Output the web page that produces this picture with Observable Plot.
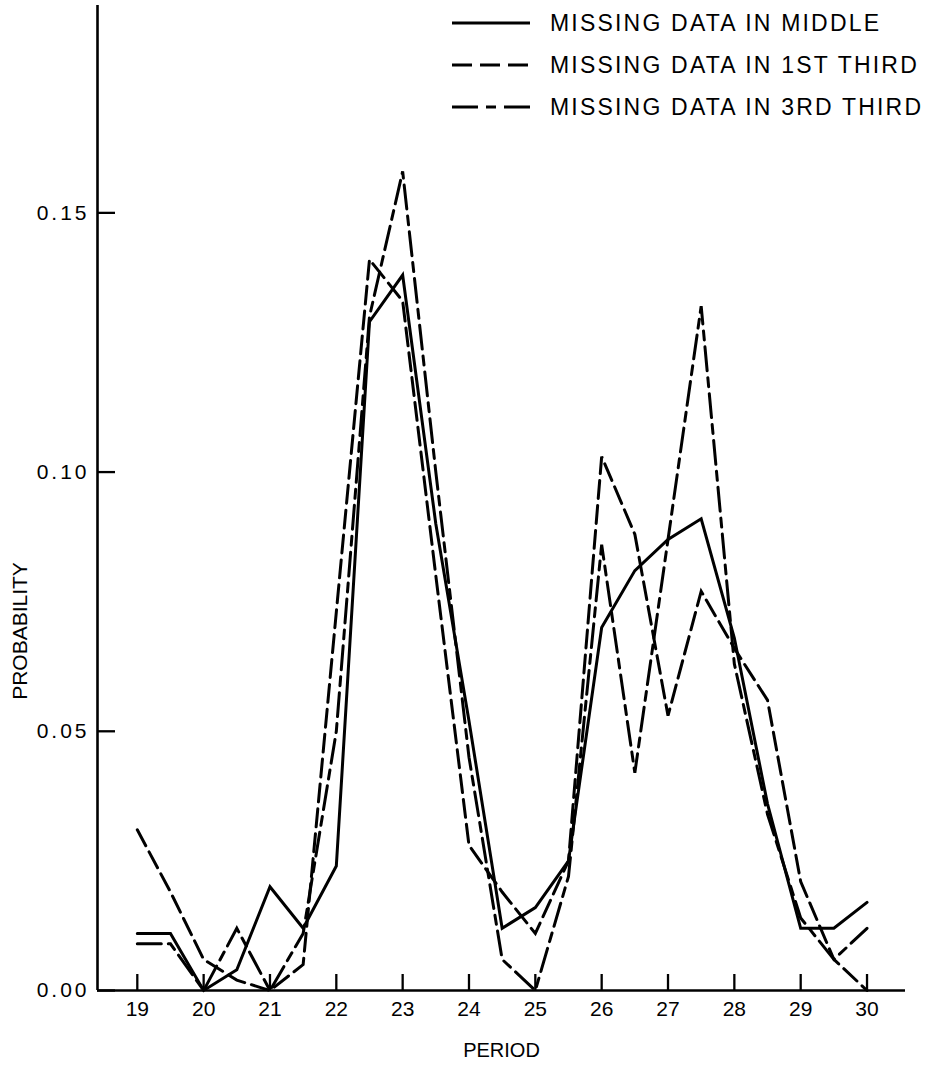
<!DOCTYPE html>
<html><head><meta charset="utf-8">
<script src="https://cdn.jsdelivr.net/npm/d3@7"></script>
<script src="https://cdn.jsdelivr.net/npm/@observablehq/plot@0.6"></script>
<style>
body{margin:0;background:#fff;}
#wrap{position:relative;width:933px;height:1069px;overflow:hidden;}
#legend{position:absolute;left:452px;top:2px;font-family:"Liberation Sans",Arial,sans-serif;font-size:23px;letter-spacing:2.2px;color:#000;}
.row{display:flex;align-items:center;height:42px;white-space:nowrap;}
.row svg{margin-right:20px;flex:none;}
#chart svg g[aria-label="y-axis tick label"] text{letter-spacing:3px;}
</style></head><body>
<div id="wrap"><div id="chart"></div><div id="legend"></div></div>
<script>
const periods = [19, 19.5, 20, 20.5, 21, 21.5, 22, 22.5, 23, 23.5, 24, 24.5, 25, 25.5, 26, 26.5, 27, 27.5, 28, 28.5, 29, 29.5, 30];
const middle     = [0.011, 0.011, 0.000, 0.004, 0.020, 0.012, 0.024, 0.129, 0.138, 0.090, 0.052, 0.012, 0.016, 0.025, 0.070, 0.081, 0.087, 0.091, 0.068, 0.036, 0.012, 0.012, 0.017];
const firstThird = [0.031, 0.019, 0.006, 0.002, 0.000, 0.005, 0.073, 0.141, 0.133, 0.080, 0.028, 0.019, 0.011, 0.025, 0.103, 0.088, 0.053, 0.077, 0.066, 0.056, 0.021, 0.006, 0.000];
const thirdThird = [0.009, 0.009, 0.000, 0.012, 0.000, 0.011, 0.050, 0.130, 0.158, 0.100, 0.045, 0.006, 0.000, 0.022, 0.086, 0.042, 0.087, 0.132, 0.063, 0.034, 0.014, 0.006, 0.012];
const seriesNames = ["MISSING DATA IN MIDDLE", "MISSING DATA IN 1ST THIRD", "MISSING DATA IN 3RD THIRD"];
const seriesDash = [null, "18,7", "24,7,9,7"];
const xTicks = [19, 20, 21, 22, 23, 24, 25, 26, 27, 28, 29, 30];
const yTicks = [0.00, 0.05, 0.10, 0.15];
const xLabel = "PERIOD";
const yLabel = "PROBABILITY";

const seriesValues = [middle, firstThird, thirdThird];
const tables = seriesValues.map((vals, k) => periods.map((p, i) => ({period: p, prob: vals[i], series: seriesNames[k]})));

const font = "Liberation Sans, Arial, sans-serif";
const chart = Plot.plot({
  width: 933, height: 1069,
  marginLeft: 97, marginRight: 28, marginTop: 5, marginBottom: 79,
  style: {fontFamily: font, fontSize: "21px", color: "#000", background: "#fff"},
  x: {domain: [18.4, 30.58]},
  y: {domain: [0, 0.19]},
  marks: [
    Plot.ruleY([0], {stroke: "#000", strokeWidth: 2.6}),
    Plot.ruleX([18.4], {stroke: "#000", strokeWidth: 2.6}),
    Plot.axisX({ticks: xTicks, tickSize: -16, tickPadding: 27, tickFormat: d => String(d), label: null, strokeWidth: 2.3, fontSize: 21}),
    Plot.axisY({ticks: yTicks, tickSize: -18, tickPadding: 26, tickFormat: d => d.toFixed(2), label: null, strokeWidth: 2.3, fontSize: 21}),
    ...tables.map((t, k) => Plot.line(t, {x: "period", y: "prob", stroke: "#000", strokeWidth: 3, strokeDasharray: seriesDash[k], strokeLinejoin: "miter", strokeMiterlimit: 3})),
    Plot.text([xLabel], {frameAnchor: "bottom", dy: 60, fontSize: 20, lineAnchor: "middle", textAnchor: "middle"}),
    Plot.text([yLabel], {frameAnchor: "left", dx: -77, dy: 133, rotate: -90, fontSize: 21, lineAnchor: "middle", textAnchor: "middle"})
  ]
});
document.getElementById("chart").appendChild(chart);

const legend = document.getElementById("legend");
seriesNames.forEach((name, k) => {
  const row = document.createElement("div");
  row.className = "row";
  const dash = seriesDash[k] ? `stroke-dasharray="${k === 1 ? "20,8" : "26,8,10,8"}"` : "";
  row.innerHTML = `<svg width="78" height="10"><line x1="0" y1="5" x2="78" y2="5" stroke="#000" stroke-width="3" ${dash}/></svg><span>${name}</span>`;
  legend.appendChild(row);
});
</script>
</body></html>
